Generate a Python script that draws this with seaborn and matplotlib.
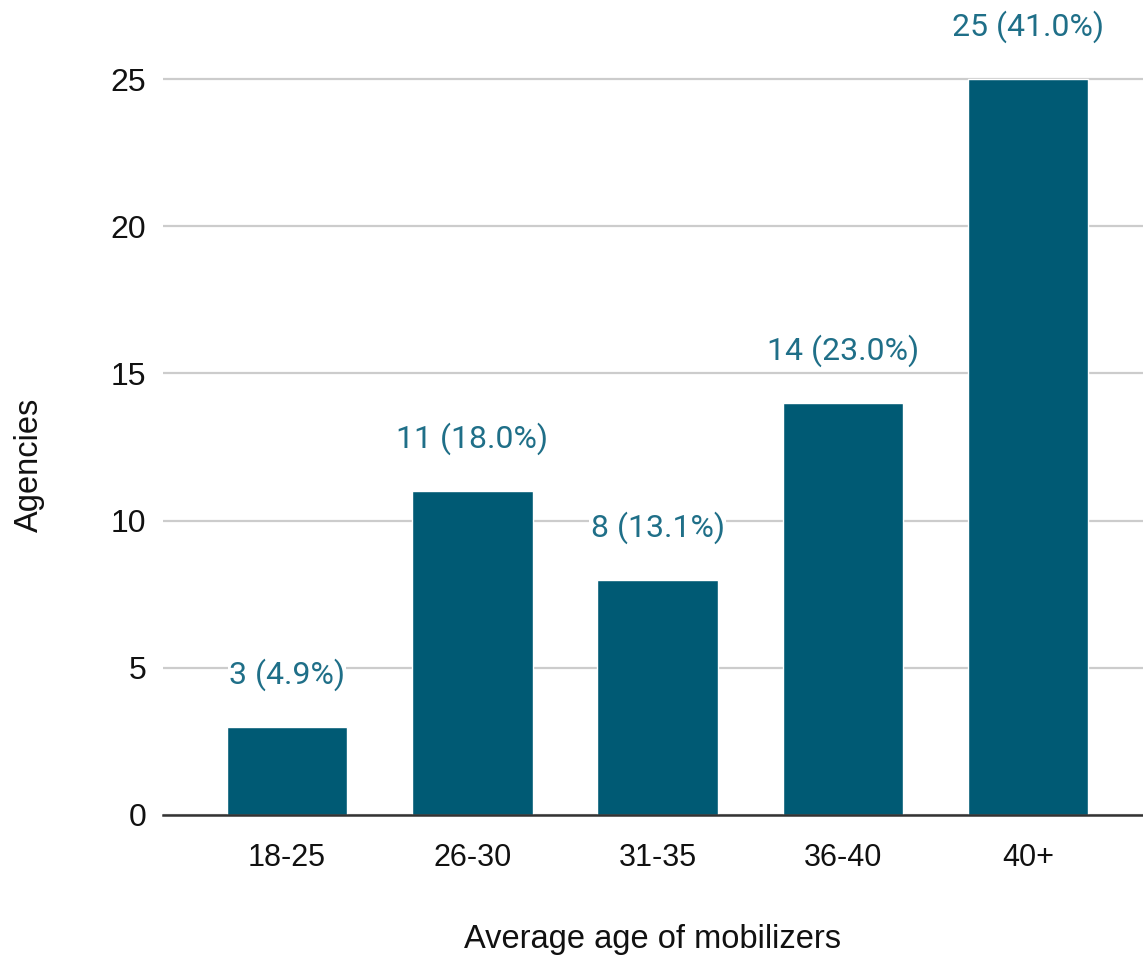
import matplotlib
matplotlib.use("Agg")
import matplotlib.pyplot as plt
import seaborn as sns
import pandas as pd

categories = ["18-25", "26-30", "31-35", "36-40", "40+"]
agencies = [3, 11, 8, 14, 25]
percent_labels = ["4.9%", "18.0%", "13.1%", "23.0%", "41.0%"]
y_ticks = [0, 5, 10, 15, 20, 25]

df = pd.DataFrame({"age": categories, "agencies": agencies})

sns.set_theme(style="white")
plt.rcParams['font.family'] = ['Liberation Sans', 'DejaVu Sans']

fig = plt.figure(figsize=(11.43, 9.63), dpi=100)
ax = fig.add_axes([0.1426, 0.1537, 0.8574, 0.81])

bar_color = "#005a74"
sns.barplot(data=df, x="age", y="agencies", color=bar_color, width=0.65,
            saturation=1, ax=ax, zorder=3)

ax.set_ylim(0, 26.5)
ax.set_xlim(-0.67, 4.62)
ax.set_yticks(y_ticks)
ax.yaxis.grid(True, color="#cccccc", linewidth=1.6, zorder=0)
ax.set_axisbelow(True)
for s in ["top", "right", "left"]:
    ax.spines[s].set_visible(False)
ax.spines["bottom"].set_color("#333333")
ax.spines["bottom"].set_linewidth(1.8)
ax.spines["bottom"].set_zorder(4)
ax.tick_params(axis="both", length=0, colors="#111111")
ax.tick_params(axis="y", pad=12, labelsize=23)
ax.tick_params(axis="x", pad=20, labelsize=22)

ax.set_xlabel("Average age of mobilizers", fontsize=23.5, color="#111111")
ax.set_ylabel("Agencies", fontsize=23.5, color="#111111")
ax.xaxis.set_label_coords(0.5, -0.160)
ax.yaxis.set_label_coords(-0.136, 0.449)
ax.xaxis.label.set_va("center")
ax.yaxis.label.set_va("center")

for i, (v, p) in enumerate(zip(agencies, percent_labels)):
    ax.annotate(f"{v} ({p})", xy=(i, v), xytext=(0, 52), textcoords="offset pixels",
                ha="center", va="center", fontsize=23, color="#1f6f88",
                family=["Roboto", "DejaVu Sans"], annotation_clip=False,
                bbox=dict(facecolor="white", edgecolor="none", pad=1))

fig.savefig("out.png", dpi=100)
